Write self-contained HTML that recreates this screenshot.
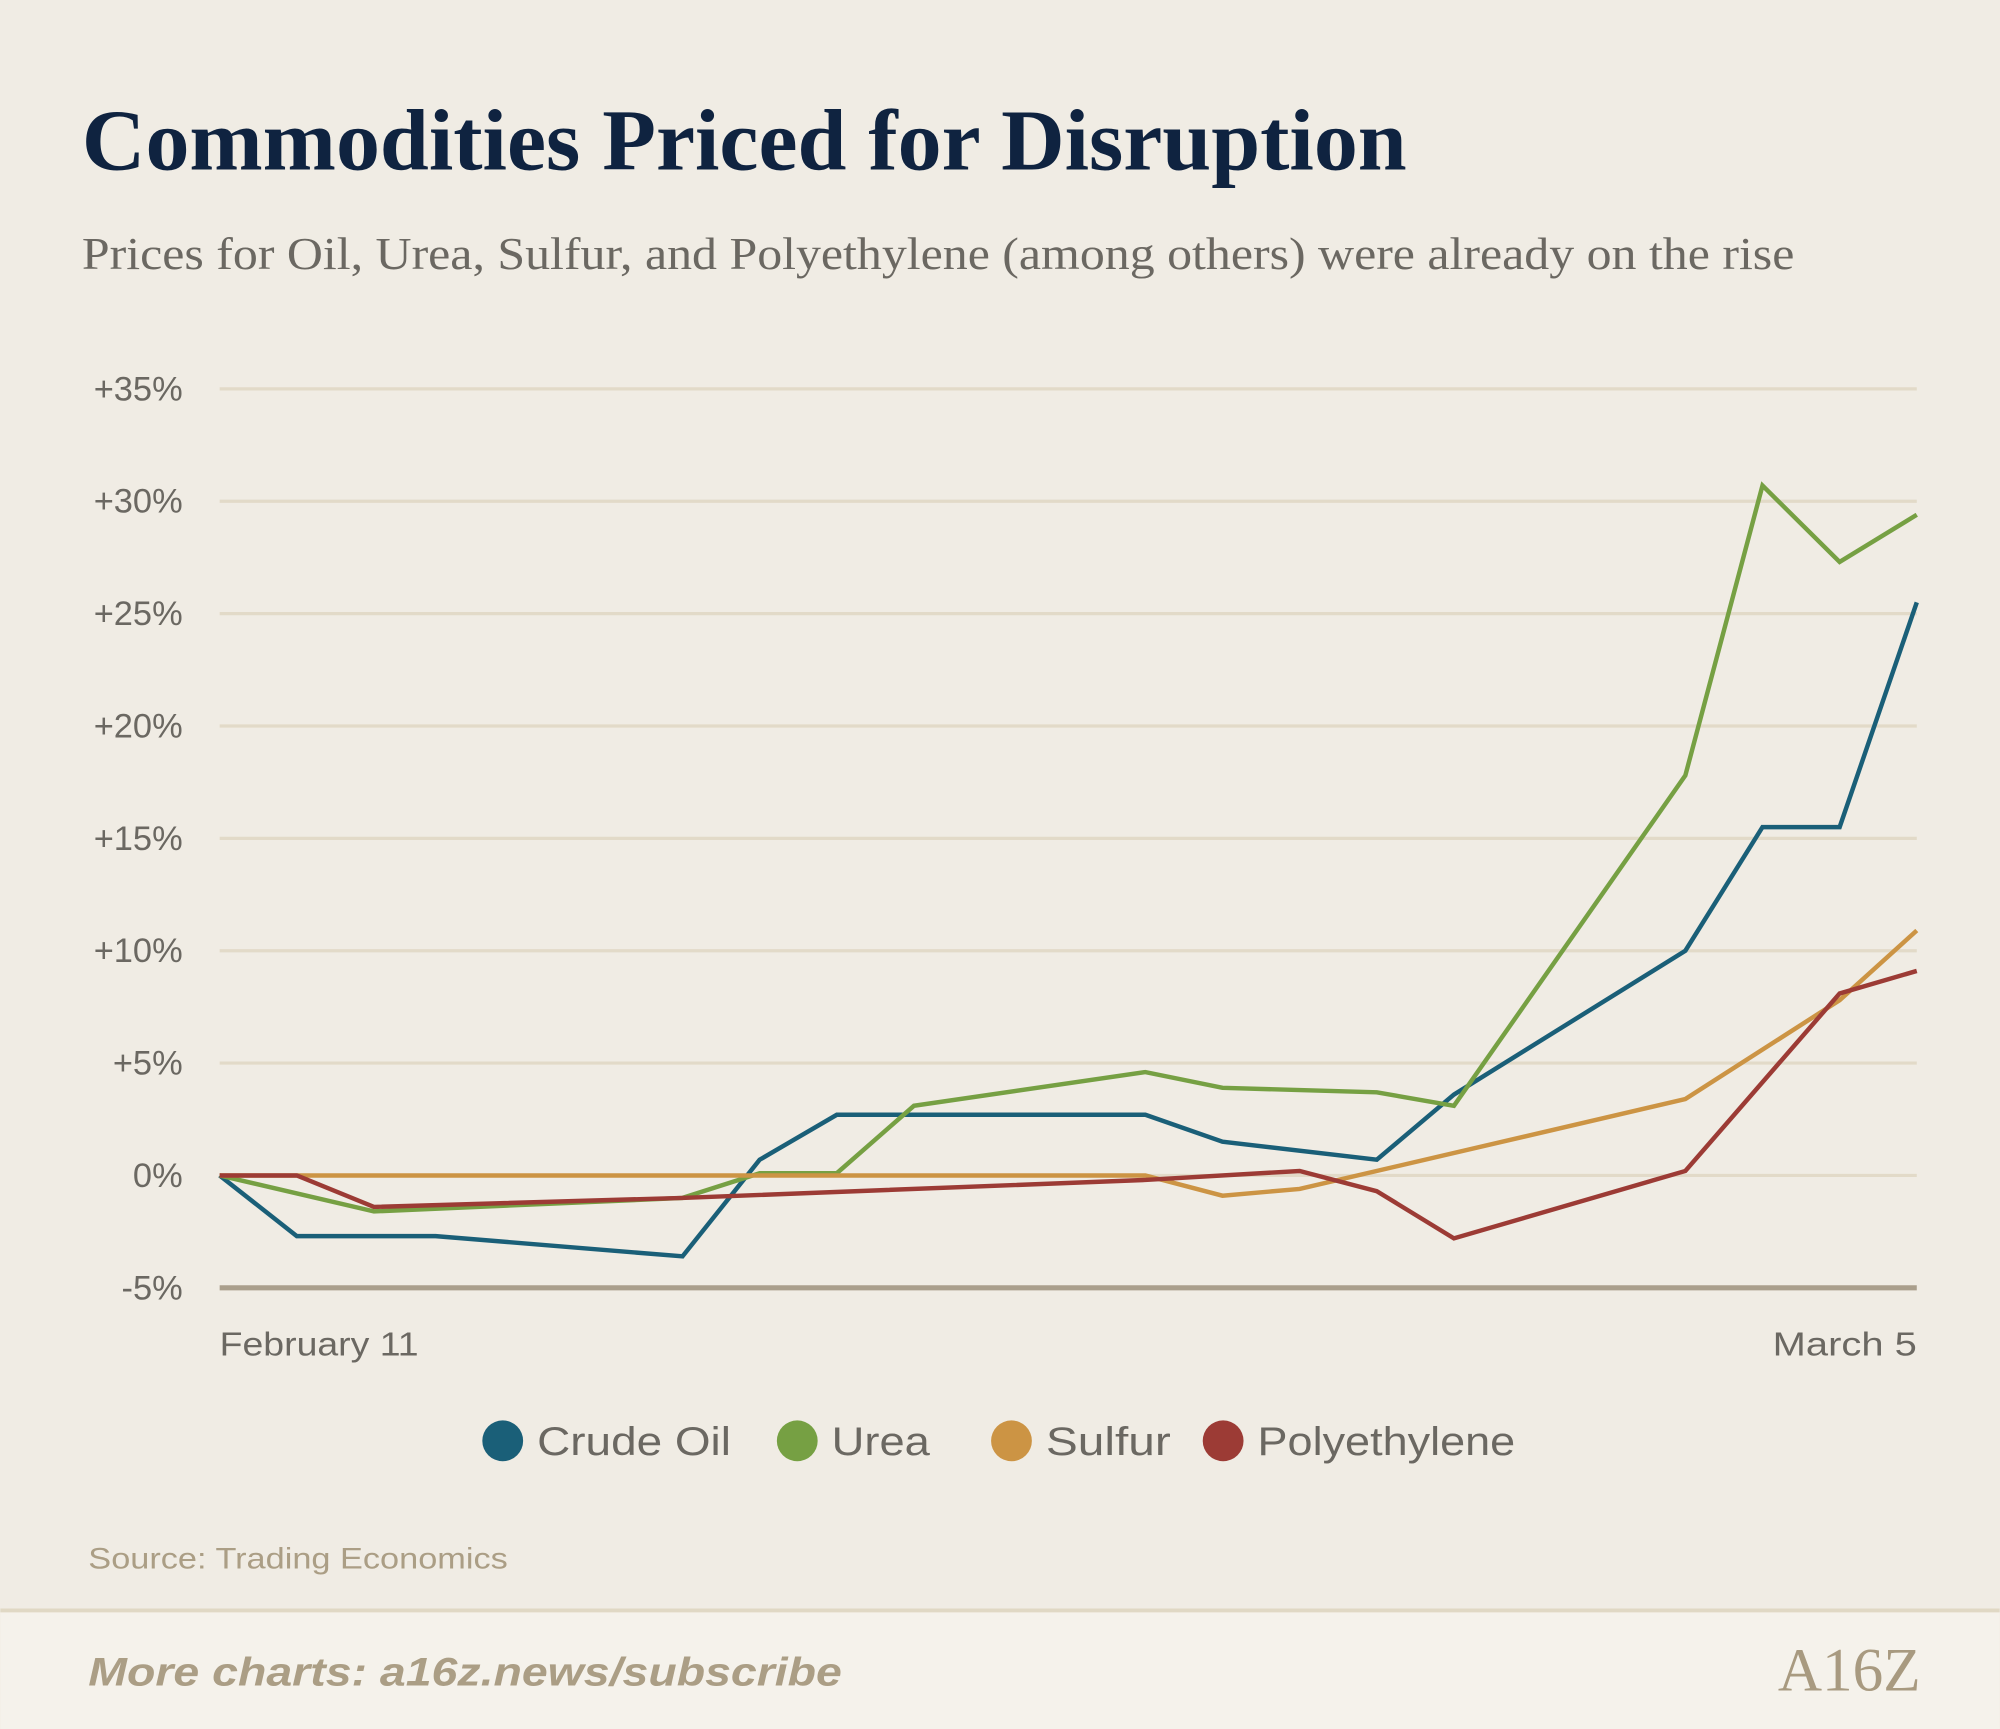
<!DOCTYPE html>
<html><head><meta charset="utf-8"><style>
html,body{margin:0;padding:0;background:#f0ece4;}
svg{display:block;}
</style></head><body>
<svg id="chart" width="2000" height="1729" viewBox="0 0 1568 1356" xmlns="http://www.w3.org/2000/svg">
<rect x="0" y="0" width="1568" height="1356" fill="#f0ece4"/>
<text x="64" y="133" textLength="1039" lengthAdjust="spacingAndGlyphs" font-family="Liberation Serif, serif" font-weight="bold" font-size="68" fill="#0f2340">Commodities Priced for Disruption</text>
<text x="64" y="211" textLength="1343" lengthAdjust="spacingAndGlyphs" font-family="Liberation Serif, serif" font-size="36" fill="#6b6862">Prices for Oil, Urea, Sulfur, and Polyethylene (among others) were already on the rise</text>
<g id="grid"></g>
<g id="yticks"></g>
<g id="series"></g>
<text x="172" y="1063" textLength="156" lengthAdjust="spacingAndGlyphs" font-family="Liberation Sans, sans-serif" font-size="26" fill="#6b6862">February 11</text>
<text x="1390" y="1063" textLength="113" lengthAdjust="spacingAndGlyphs" font-family="Liberation Sans, sans-serif" font-size="26" fill="#6b6862">March 5</text>
<g id="legend"></g>
<text x="69" y="1230" textLength="329" lengthAdjust="spacingAndGlyphs" font-family="Liberation Sans, sans-serif" font-size="23" fill="#ab9e85">Source: Trading Economics</text>
<rect x="0" y="1262" width="1568" height="94" fill="#f5f2eb"/>
<line x1="0" y1="1263" x2="1568" y2="1263" stroke="#e0d8c4" stroke-width="3"/>
<text x="69" y="1322" textLength="591" lengthAdjust="spacingAndGlyphs" font-family="Liberation Sans, sans-serif" font-weight="bold" font-style="italic" font-size="31" fill="#ab9e85">More charts: a16z.news/subscribe</text>
<text x="1506" y="1326" text-anchor="end" font-family="Liberation Serif, serif" font-size="48" fill="#a89a80">A16Z</text>
</svg>
<script>
const yTicks=[35,30,25,20,15,10,5,0,-5];
const yTickLabels=["+35%","+30%","+25%","+20%","+15%","+10%","+5%","0%","-5%"];
const seriesNames=["Crude Oil","Urea","Sulfur","Polyethylene"];
const seriesColors=["#1a5f78","#76a043","#cc9444","#9c3b35"];
const crudeDays=[0,1,2.8,6,7,8,12,13,15,16,19,20,21,22];
const crudeVals=[0,-2.7,-2.7,-3.6,0.7,2.7,2.7,1.5,0.7,3.6,10,15.5,15.5,25.5];
const ureaDays=[0,2,6,7,8,9,12,13,15,16,19,20,21,22];
const ureaVals=[0,-1.6,-1.0,0.1,0.1,3.1,4.6,3.9,3.7,3.1,17.8,30.7,27.3,29.4];
const sulfurDays=[0,12,13,14,19,21,22];
const sulfurVals=[0,0,-0.9,-0.6,3.4,7.8,10.9];
const polyDays=[0,1,2,6,12,14,15,16,19,21,22];
const polyVals=[0,0,-1.4,-1.0,-0.2,0.2,-0.7,-2.8,0.2,8.1,9.1];

const NS="http://www.w3.org/2000/svg";
const x0=172,x1=1503,dayMax=22,yTop=305,yBot=1010,vTop=35,vBot=-5;
function xs(d){return x0+(x1-x0)*d/dayMax;}
function ys(v){return yTop+(vTop-v)/(vTop-vBot)*(yBot-yTop);}
const grid=document.getElementById('grid'),yt=document.getElementById('yticks');
yTicks.forEach((t,i)=>{
  const l=document.createElementNS(NS,'line');
  l.setAttribute('x1',x0);l.setAttribute('x2',x1);l.setAttribute('y1',ys(t));l.setAttribute('y2',ys(t));
  l.setAttribute('stroke',t===-5?'#aa9f8c':'#e2dac8');l.setAttribute('stroke-width',t===-5?4:2.5);
  
  
  grid.appendChild(l);
  const tx=document.createElementNS(NS,'text');
  tx.setAttribute('x',143);tx.setAttribute('y',ys(t)+9);tx.setAttribute('text-anchor','end');
  tx.setAttribute('font-family','Liberation Sans, sans-serif');tx.setAttribute('font-size','27');tx.setAttribute('fill','#6b6862');
  tx.textContent=yTickLabels[i];
  
  
  yt.appendChild(tx);
});
const sd=[[crudeDays,crudeVals],[ureaDays,ureaVals],[sulfurDays,sulfurVals],[polyDays,polyVals]];
const sg=document.getElementById('series');
const slugs=['crude-oil-line','urea-line','sulfur-line','polyethylene-line'];
sd.forEach((s,i)=>{
  const p=document.createElementNS(NS,'polyline');
  p.setAttribute('points',s[0].map((d,j)=>xs(d)+','+ys(s[1][j])).join(' '));
  p.setAttribute('fill','none');p.setAttribute('stroke',seriesColors[i]);p.setAttribute('stroke-width',3.5);p.setAttribute('stroke-linejoin','miter');
  
  
  sg.appendChild(p);
});
const lg=document.getElementById('legend');
const lx=[394,625,793,959];
const lw=[152,77,98,202];
seriesNames.forEach((n,i)=>{
  const c=document.createElementNS(NS,'circle');
  c.setAttribute('cx',lx[i]);c.setAttribute('cy',1130);c.setAttribute('r',16);c.setAttribute('fill',seriesColors[i]);
  
  
  lg.appendChild(c);
  const t=document.createElementNS(NS,'text');
  t.setAttribute('x',lx[i]+27);t.setAttribute('y',1141);
  t.setAttribute('textLength',lw[i]);t.setAttribute('lengthAdjust','spacingAndGlyphs');
  t.setAttribute('font-family','Liberation Sans, sans-serif');t.setAttribute('font-size','31');t.setAttribute('fill','#6b6862');
  t.textContent=n;
  
  
  lg.appendChild(t);
});
</script>
</body></html>
